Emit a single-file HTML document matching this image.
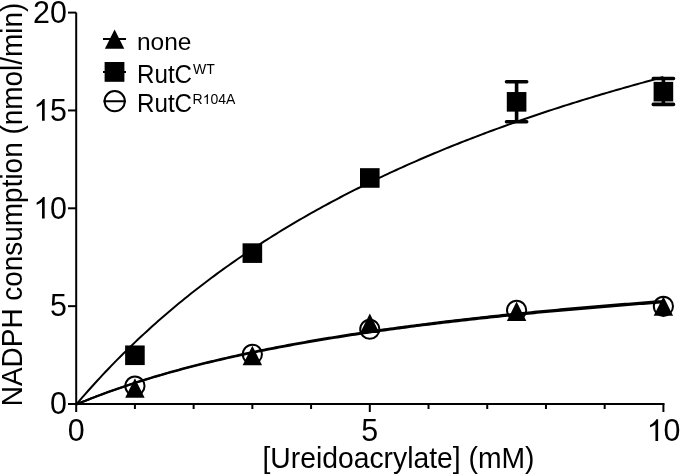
<!DOCTYPE html>
<html><head><meta charset="utf-8"><style>
html,body{margin:0;padding:0;background:#fff;width:680px;height:475px;overflow:hidden}
svg{display:block;will-change:transform}
text{font-family:"Liberation Sans",sans-serif;fill:#000}
</style></head><body>
<svg width="680" height="475" viewBox="0 0 680 475">
<path d="M76.2,12.6 V404.0" stroke="#000" stroke-width="2" fill="none"/>
<path d="M75.2,404.0 H664.5" stroke="#000" stroke-width="2" fill="none"/>
<path d="M68,404.00 H76.2" stroke="#000" stroke-width="2"/>
<path d="M68,306.15 H76.2" stroke="#000" stroke-width="2"/>
<path d="M68,208.30 H76.2" stroke="#000" stroke-width="2"/>
<path d="M68,110.45 H76.2" stroke="#000" stroke-width="2"/>
<path d="M68,12.60 H76.2" stroke="#000" stroke-width="2"/>
<path d="M76.20,404.0 V412.0" stroke="#000" stroke-width="2"/>
<path d="M134.92,404.0 V409.0" stroke="#000" stroke-width="2"/>
<path d="M193.64,404.0 V409.0" stroke="#000" stroke-width="2"/>
<path d="M252.36,404.0 V409.0" stroke="#000" stroke-width="2"/>
<path d="M311.08,404.0 V409.0" stroke="#000" stroke-width="2"/>
<path d="M369.80,404.0 V412.0" stroke="#000" stroke-width="2"/>
<path d="M428.52,404.0 V409.0" stroke="#000" stroke-width="2"/>
<path d="M487.24,404.0 V409.0" stroke="#000" stroke-width="2"/>
<path d="M545.96,404.0 V409.0" stroke="#000" stroke-width="2"/>
<path d="M604.68,404.0 V409.0" stroke="#000" stroke-width="2"/>
<path d="M663.40,404.0 V412.0" stroke="#000" stroke-width="2"/>
<path d="M76.20,404.50 L79.14,401.07 L82.07,397.68 L85.01,394.32 L87.94,391.00 L90.88,387.71 L93.82,384.46 L96.75,381.25 L99.69,378.07 L102.62,374.92 L105.56,371.81 L108.50,368.73 L111.43,365.68 L114.37,362.66 L117.30,359.67 L120.24,356.72 L123.18,353.79 L126.11,350.89 L129.05,348.02 L131.98,345.19 L134.92,342.38 L137.86,339.59 L140.79,336.84 L143.73,334.11 L146.66,331.41 L149.60,328.73 L152.54,326.08 L155.47,323.46 L158.41,320.86 L161.34,318.29 L164.28,315.74 L167.22,313.21 L170.15,310.71 L173.09,308.23 L176.02,305.78 L178.96,303.35 L181.90,300.94 L184.83,298.55 L187.77,296.18 L190.70,293.84 L193.64,291.52 L196.58,289.21 L199.51,286.93 L202.45,284.67 L205.38,282.43 L208.32,280.21 L211.26,278.01 L214.19,275.83 L217.13,273.66 L220.06,271.52 L223.00,269.39 L225.94,267.29 L228.87,265.20 L231.81,263.13 L234.74,261.07 L237.68,259.04 L240.62,257.02 L243.55,255.02 L246.49,253.03 L249.42,251.06 L252.36,249.11 L255.30,247.18 L258.23,245.26 L261.17,243.35 L264.10,241.46 L267.04,239.59 L269.98,237.73 L272.91,235.89 L275.85,234.06 L278.78,232.25 L281.72,230.45 L284.66,228.66 L287.59,226.89 L290.53,225.14 L293.46,223.39 L296.40,221.66 L299.34,219.95 L302.27,218.24 L305.21,216.56 L308.14,214.88 L311.08,213.22 L314.02,211.56 L316.95,209.93 L319.89,208.30 L322.82,206.69 L325.76,205.09 L328.70,203.50 L331.63,201.92 L334.57,200.35 L337.50,198.80 L340.44,197.26 L343.38,195.73 L346.31,194.21 L349.25,192.70 L352.18,191.20 L355.12,189.71 L358.06,188.24 L360.99,186.77 L363.93,185.32 L366.86,183.87 L369.80,182.44 L372.74,181.01 L375.67,179.60 L378.61,178.19 L381.54,176.80 L384.48,175.42 L387.42,174.04 L390.35,172.68 L393.29,171.32 L396.22,169.97 L399.16,168.64 L402.10,167.31 L405.03,165.99 L407.97,164.68 L410.90,163.38 L413.84,162.09 L416.78,160.80 L419.71,159.53 L422.65,158.26 L425.58,157.00 L428.52,155.75 L431.46,154.51 L434.39,153.28 L437.33,152.05 L440.26,150.84 L443.20,149.63 L446.14,148.43 L449.07,147.23 L452.01,146.05 L454.94,144.87 L457.88,143.70 L460.82,142.54 L463.75,141.38 L466.69,140.24 L469.62,139.09 L472.56,137.96 L475.50,136.83 L478.43,135.72 L481.37,134.60 L484.30,133.50 L487.24,132.40 L490.18,131.31 L493.11,130.22 L496.05,129.15 L498.98,128.07 L501.92,127.01 L504.86,125.95 L507.79,124.90 L510.73,123.85 L513.66,122.82 L516.60,121.78 L519.54,120.76 L522.47,119.74 L525.41,118.72 L528.34,117.71 L531.28,116.71 L534.22,115.72 L537.15,114.72 L540.09,113.74 L543.02,112.76 L545.96,111.79 L548.90,110.82 L551.83,109.86 L554.77,108.90 L557.70,107.95 L560.64,107.01 L563.58,106.07 L566.51,105.14 L569.45,104.21 L572.38,103.28 L575.32,102.37 L578.26,101.45 L581.19,100.54 L584.13,99.64 L587.06,98.74 L590.00,97.85 L592.94,96.96 L595.87,96.08 L598.81,95.20 L601.74,94.33 L604.68,93.46 L607.62,92.60 L610.55,91.74 L613.49,90.89 L616.42,90.04 L619.36,89.20 L622.30,88.36 L625.23,87.52 L628.17,86.69 L631.10,85.86 L634.04,85.04 L636.98,84.23 L639.91,83.41 L642.85,82.60 L645.78,81.80 L648.72,81.00 L651.66,80.21 L654.59,79.41 L657.53,78.63 L660.46,77.84 L663.40,77.07" stroke="#000" stroke-width="2" fill="none"/>
<path d="M76.20,404.50 L79.14,403.27 L82.07,402.06 L85.01,400.86 L87.94,399.68 L90.88,398.52 L93.82,397.37 L96.75,396.24 L99.69,395.12 L102.62,394.02 L105.56,392.93 L108.50,391.86 L111.43,390.79 L114.37,389.75 L117.30,388.71 L120.24,387.69 L123.18,386.68 L126.11,385.69 L129.05,384.70 L131.98,383.73 L134.92,382.77 L137.86,381.83 L140.79,380.89 L143.73,379.96 L146.66,379.05 L149.60,378.15 L152.54,377.25 L155.47,376.37 L158.41,375.50 L161.34,374.64 L164.28,373.78 L167.22,372.94 L170.15,372.11 L173.09,371.29 L176.02,370.47 L178.96,369.67 L181.90,368.87 L184.83,368.08 L187.77,367.31 L190.70,366.54 L193.64,365.77 L196.58,365.02 L199.51,364.28 L202.45,363.54 L205.38,362.81 L208.32,362.09 L211.26,361.37 L214.19,360.67 L217.13,359.97 L220.06,359.28 L223.00,358.59 L225.94,357.91 L228.87,357.24 L231.81,356.58 L234.74,355.92 L237.68,355.27 L240.62,354.63 L243.55,353.99 L246.49,353.36 L249.42,352.73 L252.36,352.11 L255.30,351.50 L258.23,350.89 L261.17,350.29 L264.10,349.70 L267.04,349.11 L269.98,348.52 L272.91,347.94 L275.85,347.37 L278.78,346.80 L281.72,346.24 L284.66,345.68 L287.59,345.13 L290.53,344.58 L293.46,344.04 L296.40,343.50 L299.34,342.97 L302.27,342.45 L305.21,341.92 L308.14,341.40 L311.08,340.89 L314.02,340.38 L316.95,339.88 L319.89,339.38 L322.82,338.88 L325.76,338.39 L328.70,337.91 L331.63,337.42 L334.57,336.95 L337.50,336.47 L340.44,336.00 L343.38,335.54 L346.31,335.07 L349.25,334.61 L352.18,334.16 L355.12,333.71 L358.06,333.26 L360.99,332.82 L363.93,332.38 L366.86,331.94 L369.80,331.51 L372.74,331.08 L375.67,330.66 L378.61,330.24 L381.54,329.82 L384.48,329.40 L387.42,328.99 L390.35,328.58 L393.29,328.18 L396.22,327.78 L399.16,327.38 L402.10,326.98 L405.03,326.59 L407.97,326.20 L410.90,325.81 L413.84,325.43 L416.78,325.05 L419.71,324.67 L422.65,324.30 L425.58,323.92 L428.52,323.55 L431.46,323.19 L434.39,322.82 L437.33,322.46 L440.26,322.11 L443.20,321.75 L446.14,321.40 L449.07,321.05 L452.01,320.70 L454.94,320.35 L457.88,320.01 L460.82,319.67 L463.75,319.33 L466.69,319.00 L469.62,318.67 L472.56,318.34 L475.50,318.01 L478.43,317.68 L481.37,317.36 L484.30,317.04 L487.24,316.72 L490.18,316.40 L493.11,316.09 L496.05,315.78 L498.98,315.47 L501.92,315.16 L504.86,314.85 L507.79,314.55 L510.73,314.25 L513.66,313.95 L516.60,313.65 L519.54,313.35 L522.47,313.06 L525.41,312.77 L528.34,312.48 L531.28,312.19 L534.22,311.91 L537.15,311.62 L540.09,311.34 L543.02,311.06 L545.96,310.78 L548.90,310.51 L551.83,310.23 L554.77,309.96 L557.70,309.69 L560.64,309.42 L563.58,309.15 L566.51,308.89 L569.45,308.62 L572.38,308.36 L575.32,308.10 L578.26,307.84 L581.19,307.58 L584.13,307.33 L587.06,307.07 L590.00,306.82 L592.94,306.57 L595.87,306.32 L598.81,306.07 L601.74,305.83 L604.68,305.58 L607.62,305.34 L610.55,305.10 L613.49,304.86 L616.42,304.62 L619.36,304.38 L622.30,304.14 L625.23,303.91 L628.17,303.68 L631.10,303.44 L634.04,303.21 L636.98,302.98 L639.91,302.76 L642.85,302.53 L645.78,302.31 L648.72,302.08 L651.66,301.86 L654.59,301.64 L657.53,301.42 L660.46,301.20 L663.40,300.98" stroke="#000" stroke-width="2.1" fill="none"/>
<path d="M76.20,404.50 L79.14,403.29 L82.07,402.09 L85.01,400.91 L87.94,399.75 L90.88,398.60 L93.82,397.46 L96.75,396.35 L99.69,395.24 L102.62,394.15 L105.56,393.08 L108.50,392.02 L111.43,390.97 L114.37,389.94 L117.30,388.92 L120.24,387.91 L123.18,386.91 L126.11,385.93 L129.05,384.96 L131.98,384.00 L134.92,383.05 L137.86,382.12 L140.79,381.19 L143.73,380.28 L146.66,379.38 L149.60,378.49 L152.54,377.60 L155.47,376.73 L158.41,375.87 L161.34,375.02 L164.28,374.18 L167.22,373.35 L170.15,372.53 L173.09,371.72 L176.02,370.91 L178.96,370.12 L181.90,369.33 L184.83,368.55 L187.77,367.79 L190.70,367.03 L193.64,366.27 L196.58,365.53 L199.51,364.80 L202.45,364.07 L205.38,363.35 L208.32,362.64 L211.26,361.93 L214.19,361.23 L217.13,360.54 L220.06,359.86 L223.00,359.18 L225.94,358.51 L228.87,357.85 L231.81,357.20 L234.74,356.55 L237.68,355.91 L240.62,355.27 L243.55,354.64 L246.49,354.02 L249.42,353.40 L252.36,352.79 L255.30,352.18 L258.23,351.58 L261.17,350.99 L264.10,350.40 L267.04,349.82 L269.98,349.24 L272.91,348.67 L275.85,348.11 L278.78,347.55 L281.72,346.99 L284.66,346.44 L287.59,345.90 L290.53,345.36 L293.46,344.82 L296.40,344.29 L299.34,343.77 L302.27,343.25 L305.21,342.73 L308.14,342.22 L311.08,341.71 L314.02,341.21 L316.95,340.71 L319.89,340.22 L322.82,339.73 L325.76,339.25 L328.70,338.77 L331.63,338.29 L334.57,337.82 L337.50,337.35 L340.44,336.89 L343.38,336.43 L346.31,335.97 L349.25,335.52 L352.18,335.07 L355.12,334.62 L358.06,334.18 L360.99,333.75 L363.93,333.31 L366.86,332.88 L369.80,332.45 L372.74,332.03 L375.67,331.61 L378.61,331.20 L381.54,330.78 L384.48,330.37 L387.42,329.97 L390.35,329.56 L393.29,329.16 L396.22,328.77 L399.16,328.37 L402.10,327.98 L405.03,327.59 L407.97,327.21 L410.90,326.83 L413.84,326.45 L416.78,326.07 L419.71,325.70 L422.65,325.33 L425.58,324.96 L428.52,324.60 L431.46,324.24 L434.39,323.88 L437.33,323.52 L440.26,323.17 L443.20,322.82 L446.14,322.47 L449.07,322.13 L452.01,321.78 L454.94,321.44 L457.88,321.10 L460.82,320.77 L463.75,320.43 L466.69,320.10 L469.62,319.78 L472.56,319.45 L475.50,319.13 L478.43,318.80 L481.37,318.48 L484.30,318.17 L487.24,317.85 L490.18,317.54 L493.11,317.23 L496.05,316.92 L498.98,316.62 L501.92,316.31 L504.86,316.01 L507.79,315.71 L510.73,315.41 L513.66,315.12 L516.60,314.82 L519.54,314.53 L522.47,314.24 L525.41,313.95 L528.34,313.67 L531.28,313.38 L534.22,313.10 L537.15,312.82 L540.09,312.54 L543.02,312.27 L545.96,311.99 L548.90,311.72 L551.83,311.45 L554.77,311.18 L557.70,310.91 L560.64,310.65 L563.58,310.38 L566.51,310.12 L569.45,309.86 L572.38,309.60 L575.32,309.34 L578.26,309.09 L581.19,308.83 L584.13,308.58 L587.06,308.33 L590.00,308.08 L592.94,307.83 L595.87,307.59 L598.81,307.34 L601.74,307.10 L604.68,306.86 L607.62,306.62 L610.55,306.38 L613.49,306.14 L616.42,305.91 L619.36,305.67 L622.30,305.44 L625.23,305.21 L628.17,304.98 L631.10,304.75 L634.04,304.52 L636.98,304.30 L639.91,304.07 L642.85,303.85 L645.78,303.63 L648.72,303.40 L651.66,303.19 L654.59,302.97 L657.53,302.75 L660.46,302.54 L663.40,302.32" stroke="#000" stroke-width="2.1" fill="none"/>
<path d="M516.60,121.80 V81.68 M506.50,121.80 H526.70 M506.50,81.68 H526.70" stroke="#000" stroke-width="3.6" stroke-linecap="round" fill="none"/>
<path d="M663.40,104.38 V78.55 M653.30,104.38 H673.50 M653.30,78.55 H673.50" stroke="#000" stroke-width="3.6" stroke-linecap="round" fill="none"/>
<circle cx="134.92" cy="386.00" r="9.6" fill="none" stroke="#000" stroke-width="2"/>
<circle cx="252.36" cy="354.29" r="9.6" fill="none" stroke="#000" stroke-width="2"/>
<circle cx="369.80" cy="329.24" r="9.6" fill="none" stroke="#000" stroke-width="2"/>
<circle cx="516.60" cy="310.26" r="9.6" fill="none" stroke="#000" stroke-width="2"/>
<circle cx="663.40" cy="306.35" r="9.6" fill="none" stroke="#000" stroke-width="2"/>
<path d="M134.92,378.25 L144.62,397.65 L125.22,397.65 Z" fill="#000"/>
<path d="M252.36,345.77 L262.06,365.17 L242.66,365.17 Z" fill="#000"/>
<path d="M369.80,313.48 L379.50,332.88 L360.10,332.88 Z" fill="#000"/>
<path d="M516.60,301.54 L526.30,320.94 L506.90,320.94 Z" fill="#000"/>
<path d="M663.40,296.45 L673.10,315.85 L653.70,315.85 Z" fill="#000"/>
<rect x="125.12" y="345.47" width="19.6" height="19.6" fill="#000"/>
<rect x="242.56" y="243.32" width="19.6" height="19.6" fill="#000"/>
<rect x="360.00" y="168.17" width="19.6" height="19.6" fill="#000"/>
<rect x="506.80" y="92.04" width="19.6" height="19.6" fill="#000"/>
<rect x="653.60" y="81.86" width="19.6" height="19.6" fill="#000"/>
<path d="M103,38.9 H126 M103,71.9 H126 M103.5,101.2 H125.8" stroke="#000" stroke-width="2"/>
<path d="M114.6,29.4 L124.3,48.8 L104.9,48.8 Z" fill="#000"/>
<rect x="104.6" y="62" width="19.8" height="19.8" fill="#000"/>
<circle cx="114.7" cy="101.2" r="10.1" fill="none" stroke="#000" stroke-width="2"/>
<text transform="translate(137.00,49.50) scale(1.0300,1)" font-size="23.8">none</text>
<text transform="translate(137.00,83.00) scale(0.9670,1)" font-size="25">RutC</text>
<text transform="translate(193.00,74.00)" font-size="14">WT</text>
<text transform="translate(137.00,112.20) scale(0.9670,1)" font-size="25">RutC</text>
<text transform="translate(192.50,104.00)" font-size="14">R</text>
<path transform="translate(202.71,104.00) scale(0.00684,-0.00663)" d="M763,0 L583,0 L583,1147 Q518,1085 412,1023 Q306,961 221,935 L221,1090 Q372,1175 485,1276 Q598,1377 645,1472 L763,1472 Z" fill="#000"/>
<text transform="translate(210.40,104.00)" font-size="14">04A</text>
<text transform="translate(49.98,414.30) scale(0.9750,1)" font-size="31.2">0</text>
<text transform="translate(49.98,316.45) scale(0.9750,1)" font-size="31.2">5</text>
<path transform="translate(33.36,218.60) scale(0.01485,-0.01470)" d="M763,0 L583,0 L583,1147 Q518,1085 412,1023 Q306,961 221,935 L221,1090 Q372,1175 485,1276 Q598,1377 645,1472 L763,1472 Z" fill="#000"/>
<text transform="translate(49.98,218.60) scale(0.9750,1)" font-size="31.2">0</text>
<path transform="translate(33.36,120.75) scale(0.01485,-0.01470)" d="M763,0 L583,0 L583,1147 Q518,1085 412,1023 Q306,961 221,935 L221,1090 Q372,1175 485,1276 Q598,1377 645,1472 L763,1472 Z" fill="#000"/>
<text transform="translate(49.98,120.75) scale(0.9750,1)" font-size="31.2">5</text>
<text transform="translate(33.06,22.90) scale(0.9750,1)" font-size="31.2">2</text>
<text transform="translate(49.98,22.90) scale(0.9750,1)" font-size="31.2">0</text>
<text transform="translate(67.74,441.00) scale(0.9750,1)" font-size="31.2">0</text>
<text transform="translate(361.34,441.00) scale(0.9750,1)" font-size="31.2">5</text>
<path transform="translate(646.78,441.00) scale(0.01485,-0.01470)" d="M763,0 L583,0 L583,1147 Q518,1085 412,1023 Q306,961 221,935 L221,1090 Q372,1175 485,1276 Q598,1377 645,1472 L763,1472 Z" fill="#000"/>
<text transform="translate(663.40,441.00) scale(0.9750,1)" font-size="31.2">0</text>
<text transform="translate(262.40,468.20) scale(0.9700,1)" font-size="29.2">[Ureidoacrylate] (mM)</text>
<text transform="translate(21.70,406.20) rotate(-90) scale(0.9375,1)" font-size="29.8">NADPH consumption (nmol/min)</text>
</svg>
</body></html>
